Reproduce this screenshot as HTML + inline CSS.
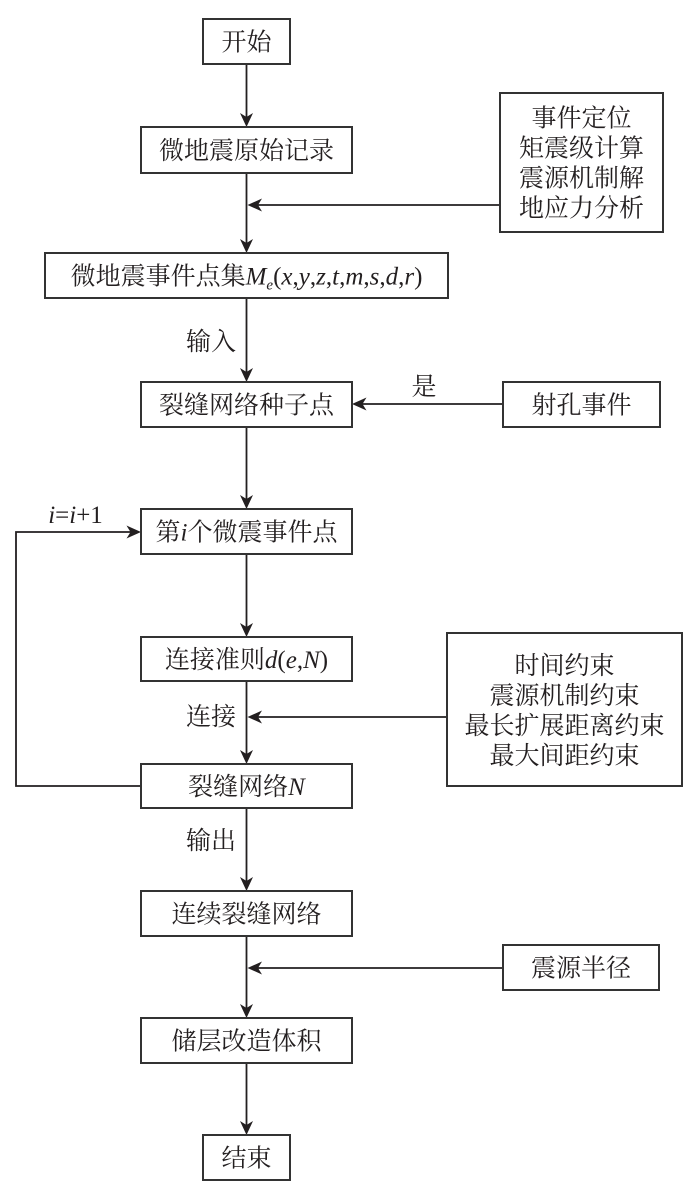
<!DOCTYPE html>
<html>
<head>
<meta charset="utf-8">
<style>
  html,body{margin:0;padding:0;background:#fff;}
  svg{display:block;}
  .t{font-family:"Liberation Serif","Noto Serif CJK SC","Noto Sans CJK SC",serif;font-size:25px;fill:#231f20;}
  .m{font-family:"Liberation Serif",serif;font-style:italic;}
  .r{font-family:"Liberation Serif",serif;font-style:normal;}
  .b{fill:#fff;stroke:#333;stroke-width:2;}
  .l{stroke:#231f20;stroke-width:1.8;fill:none;}
  .a{fill:#231f20;stroke:none;}
</style>
</head>
<body>
<svg width="700" height="1192" viewBox="0 0 700 1192" xmlns="http://www.w3.org/2000/svg">
  <!-- connectors -->
  <line class="l" x1="246.5" y1="64" x2="246.5" y2="120"/>
  <line class="l" x1="246.5" y1="173" x2="246.5" y2="246"/>
  <line class="l" x1="500" y1="205" x2="255" y2="205"/>
  <line class="l" x1="246.5" y1="298" x2="246.5" y2="375"/>
  <line class="l" x1="246.5" y1="427" x2="246.5" y2="502"/>
  <line class="l" x1="503" y1="404" x2="360" y2="404"/>
  <line class="l" x1="246.5" y1="554" x2="246.5" y2="630"/>
  <line class="l" x1="246.5" y1="681" x2="246.5" y2="757"/>
  <line class="l" x1="447" y1="717" x2="255" y2="717"/>
  <polyline class="l" points="141,786 16,786 16,532 133,532"/>
  <line class="l" x1="246.5" y1="808" x2="246.5" y2="884"/>
  <line class="l" x1="246.5" y1="936" x2="246.5" y2="1011"/>
  <line class="l" x1="503" y1="968" x2="255" y2="968"/>
  <line class="l" x1="246.5" y1="1063" x2="246.5" y2="1128"/>

  <!-- arrowheads down -->
  <path class="a" d="M246.5,127 L240,113 L246.5,117 L253,113 Z"/>
  <path class="a" d="M246.5,253 L240,239 L246.5,243 L253,239 Z"/>
  <path class="a" d="M246.5,382 L240,368 L246.5,372 L253,368 Z"/>
  <path class="a" d="M246.5,509 L240,495 L246.5,499 L253,495 Z"/>
  <path class="a" d="M246.5,637 L240,623 L246.5,627 L253,623 Z"/>
  <path class="a" d="M246.5,764 L240,750 L246.5,754 L253,750 Z"/>
  <path class="a" d="M246.5,891 L240,877 L246.5,881 L253,877 Z"/>
  <path class="a" d="M246.5,1018 L240,1004 L246.5,1008 L253,1004 Z"/>
  <path class="a" d="M246.5,1135 L240,1121 L246.5,1125 L253,1121 Z"/>
  <!-- arrowheads left -->
  <path class="a" d="M247.5,205 L262,198.5 L258,205 L262,211.5 Z"/>
  <path class="a" d="M352,404 L366.5,397.5 L362.5,404 L366.5,410.5 Z"/>
  <path class="a" d="M247.5,717 L262,710.5 L258,717 L262,723.5 Z"/>
  <path class="a" d="M247.5,968 L262,961.5 L258,968 L262,974.5 Z"/>
  <!-- arrowhead right -->
  <path class="a" d="M141,532 L126.5,525.5 L130.5,532 L126.5,538.5 Z"/>

  <!-- boxes -->
  <rect class="b" x="203" y="19" width="87" height="45"/>
  <rect class="b" x="141" y="127" width="211" height="46"/>
  <rect class="b" x="500" y="93" width="163" height="139"/>
  <rect class="b" x="45" y="253" width="403" height="45"/>
  <rect class="b" x="141" y="382" width="211" height="45"/>
  <rect class="b" x="503" y="382" width="157" height="45"/>
  <rect class="b" x="141" y="509" width="211" height="45"/>
  <rect class="b" x="141" y="637" width="211" height="44"/>
  <rect class="b" x="447" y="633" width="235" height="153"/>
  <rect class="b" x="141" y="764" width="211" height="44"/>
  <rect class="b" x="141" y="891" width="211" height="45"/>
  <rect class="b" x="503" y="945" width="156" height="45"/>
  <rect class="b" x="141" y="1018" width="211" height="45"/>
  <rect class="b" x="203" y="1135" width="87" height="45"/>

  <!-- texts -->
  <text class="t" x="246.5" y="50.5" text-anchor="middle">开始</text>
  <text class="t" x="246.5" y="159" text-anchor="middle">微地震原始记录</text>
  <text class="t" x="581.5" y="126.5" text-anchor="middle">事件定位</text>
  <text class="t" x="581.5" y="156.5" text-anchor="middle">矩震级计算</text>
  <text class="t" x="581.5" y="186.5" text-anchor="middle">震源机制解</text>
  <text class="t" x="581.5" y="216.5" text-anchor="middle">地应力分析</text>
  <text class="t" x="246.5" y="284.5" text-anchor="middle">微地震事件点集<tspan class="m">M</tspan><tspan class="m" font-size="15" dy="5">e</tspan><tspan class="r" dy="-5">(</tspan><tspan class="m">x</tspan><tspan class="r">,</tspan><tspan class="m">y</tspan><tspan class="r">,</tspan><tspan class="m">z</tspan><tspan class="r">,</tspan><tspan class="m">t</tspan><tspan class="r">,</tspan><tspan class="m">m</tspan><tspan class="r">,</tspan><tspan class="m">s</tspan><tspan class="r">,</tspan><tspan class="m">d</tspan><tspan class="r">,</tspan><tspan class="m">r</tspan><tspan class="r">)</tspan></text>
  <text class="t" x="211" y="350" text-anchor="middle">输入</text>
  <text class="t" x="246.5" y="413.5" text-anchor="middle">裂缝网络种子点</text>
  <text class="t" x="581.5" y="413.5" text-anchor="middle">射孔事件</text>
  <text class="t" x="424" y="395" text-anchor="middle">是</text>
  <text class="t" x="75.5" y="523" text-anchor="middle"><tspan class="m">i</tspan><tspan class="r">=</tspan><tspan class="m">i</tspan><tspan class="r">+1</tspan></text>
  <text class="t" x="246.5" y="540.5" text-anchor="middle">第<tspan class="m">i</tspan>个微震事件点</text>
  <text class="t" x="246.5" y="668" text-anchor="middle">连接准则<tspan class="m">d</tspan><tspan class="r">(</tspan><tspan class="m">e</tspan><tspan class="r">,</tspan><tspan class="m">N</tspan><tspan class="r">)</tspan></text>
  <text class="t" x="564.5" y="674" text-anchor="middle">时间约束</text>
  <text class="t" x="564.5" y="704" text-anchor="middle">震源机制约束</text>
  <text class="t" x="564.5" y="734" text-anchor="middle">最长扩展距离约束</text>
  <text class="t" x="564.5" y="764" text-anchor="middle">最大间距约束</text>
  <text class="t" x="211" y="725" text-anchor="middle">连接</text>
  <text class="t" x="246.5" y="795" text-anchor="middle">裂缝网络<tspan class="m">N</tspan></text>
  <text class="t" x="211" y="849" text-anchor="middle">输出</text>
  <text class="t" x="246.5" y="922.5" text-anchor="middle">连续裂缝网络</text>
  <text class="t" x="581" y="976.5" text-anchor="middle">震源半径</text>
  <text class="t" x="246.5" y="1049.5" text-anchor="middle">储层改造体积</text>
  <text class="t" x="246.5" y="1166.5" text-anchor="middle">结束</text>
</svg>
</body>
</html>
